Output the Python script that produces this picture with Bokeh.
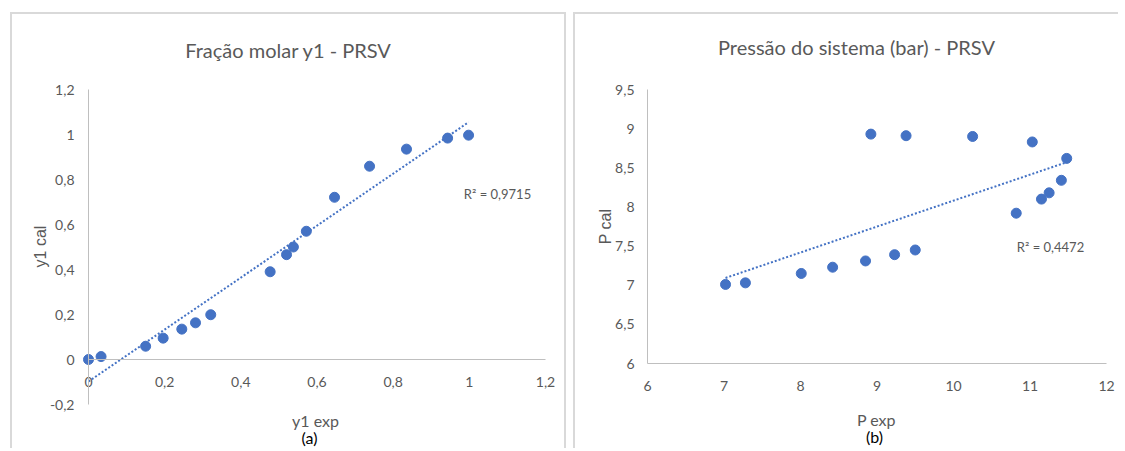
import math
import numpy as np
from bokeh.plotting import figure
from bokeh.layouts import row, column
from bokeh.models import (Label, FixedTicker, CustomJSTickFormatter, Spacer, Range1d,
                          LinearAxis)
from bokeh.embed import file_html
from bokeh.resources import INLINE

# ---------------- data ----------------
y1_exp = [0.0, 0.033, 0.15, 0.196, 0.245, 0.281, 0.321, 0.477, 0.52, 0.538,
          0.572, 0.646, 0.738, 0.835, 0.943, 0.998]
y1_cal = [0.0, 0.013, 0.059, 0.095, 0.135, 0.163, 0.199, 0.39, 0.466, 0.50,
          0.57, 0.721, 0.859, 0.935, 0.984, 0.997]

p_exp = [7.02, 7.28, 8.01, 8.42, 8.85, 9.23, 9.50, 8.92, 9.38, 10.25,
         11.03, 11.48, 11.41, 11.25, 11.15, 10.82]
p_cal = [7.01, 7.03, 7.15, 7.23, 7.31, 7.39, 7.45, 8.93, 8.91, 8.90,
         8.83, 8.62, 8.34, 8.18, 8.10, 7.92]

left_x_ticks = [0, 0.2, 0.4, 0.6, 0.8, 1, 1.2]
left_x_labels = ["0", "0,2", "0,4", "0,6", "0,8", "1", "1,2"]
left_y_ticks = [-0.2, 0, 0.2, 0.4, 0.6, 0.8, 1, 1.2]
left_y_labels = ["-0,2", "0", "0,2", "0,4", "0,6", "0,8", "1", "1,2"]

right_x_ticks = [6, 7, 8, 9, 10, 11, 12]
right_x_labels = ["6", "7", "8", "9", "10", "11", "12"]
right_y_ticks = [6, 6.5, 7, 7.5, 8, 8.5, 9, 9.5]
right_y_labels = ["6", "6,5", "7", "7,5", "8", "8,5", "9", "9,5"]

left_title = "Fração molar y1 - PRSV"
right_title = "Pressão do sistema (bar) - PRSV"
left_r2 = "R² = 0,9715"
right_r2 = "R² = 0,4472"

# ---------------- style ----------------
BLUE = "#4472C4"
GRAY_TXT = "#595959"
AXIS_COL = "#bfbfbf"
FONT = "Lato"
ROT_FONT = "Liberation Sans"
BORDER = "2px solid #d9d9d9"


def fmt(tick_vals, tick_texts):
    return CustomJSTickFormatter(args=dict(tv=tick_vals, tt=tick_texts), code="""
        for (let i = 0; i < tv.length; i++) {
            if (Math.abs(tv[i] - tick) < 1e-9) return tt[i];
        }
        return "";
    """)


def make_axis(p, side, loc, bounds, tick_vals, tick_texts, standoff):
    ax = LinearAxis(fixed_location=loc, bounds=bounds,
                    ticker=FixedTicker(ticks=tick_vals),
                    formatter=fmt(tick_vals, tick_texts))
    ax.major_tick_out = 0
    ax.major_tick_in = 0
    ax.minor_tick_out = 0
    ax.minor_tick_in = 0
    ax.axis_line_color = AXIS_COL
    ax.axis_line_width = 1
    ax.major_label_text_font = FONT
    ax.major_label_text_font_size = "14px"
    ax.major_label_text_color = GRAY_TXT
    ax.major_label_standoff = standoff
    p.add_layout(ax, side)
    return ax


def txt(p, x, y, text, size, color=GRAY_TXT, font=FONT, angle=0.0):
    p.add_layout(Label(x=x, y=y, x_units="screen", y_units="screen", text=text,
                       text_font=font, text_font_size=size, text_color=color,
                       text_align="center", text_baseline="middle", angle=angle))


def make(xs, ys, xb, yb, w, h, pad, styles):
    """pad = (left, right, top, bottom) pixels around the axis box inside the canvas"""
    pl, pr, pt, pb = pad
    sx = (xb[1] - xb[0]) / (w - pl - pr)
    sy = (yb[1] - yb[0]) / (h - pt - pb)
    p = figure(width=w, height=h,
               x_range=Range1d(xb[0] - pl * sx, xb[1] + pr * sx),
               y_range=Range1d(yb[0] - pb * sy, yb[1] + pt * sy),
               x_axis_location=None, y_axis_location=None,
               output_backend="svg", toolbar_location=None, title=None,
               min_border=0, styles=styles)
    p.outline_line_color = None
    p.grid.visible = False
    p.background_fill_color = "white"
    p.border_fill_color = "white"
    # trendline (linear least squares from the data)
    a, b = np.polyfit(xs, ys, 1)
    tx = np.array([min(xs), max(xs)])
    p.scatter(xs, ys, size=10, fill_color=BLUE, line_color=BLUE, marker="circle")
    p.line(tx, a * tx + b, line_color=BLUE, line_width=2, line_dash="2 2")
    return p


CANVAS_H = 436

# ---------------- left chart ----------------
left = make(y1_exp, y1_cal, (0, 1.2), (-0.2, 1.2), 556, CANVAS_H, (76, 23, 75, 46),
            {"border-top": BORDER, "border-left": BORDER, "border-right": BORDER})
make_axis(left, "below", 0, (0, 1.2), left_x_ticks, left_x_labels, 17)
make_axis(left, "left", 0, (-0.2, 1.2), left_y_ticks, left_y_labels, 14)
txt(left, 276, 401, left_title, "20px")
txt(left, 28, 204, "y1 cal", "16px", font=ROT_FONT, angle=math.pi / 2)
txt(left, 303, 30, "y1 exp", "16px")
txt(left, 297, 13, "(a)", "16px", color="#000000")
txt(left, 485, 257, left_r2, "13px")

# ---------------- right chart ----------------
right = make(p_exp, p_cal, (6, 12), (6, 9.5), 545, CANVAS_H, (72, 14, 75, 87),
             {"border-top": BORDER, "border-left": BORDER})
make_axis(right, "below", 6, (6, 12), right_x_ticks, right_x_labels, 17)
make_axis(right, "left", 6, (6, 9.5), right_y_ticks, right_y_labels, 13)
txt(right, 281, 404, right_title, "20px")
txt(right, 30, 224, "P cal", "16px", font=ROT_FONT, angle=math.pi / 2)
txt(right, 301, 31, "P exp", "16px")
txt(right, 299, 14, "(b)", "16px", color="#000000")
txt(right, 475, 204, right_r2, "13px")

layout = column(Spacer(height=12),
                row(Spacer(width=10), left, Spacer(width=7), right))

open("out.html", "w").write(file_html(layout, INLINE))
